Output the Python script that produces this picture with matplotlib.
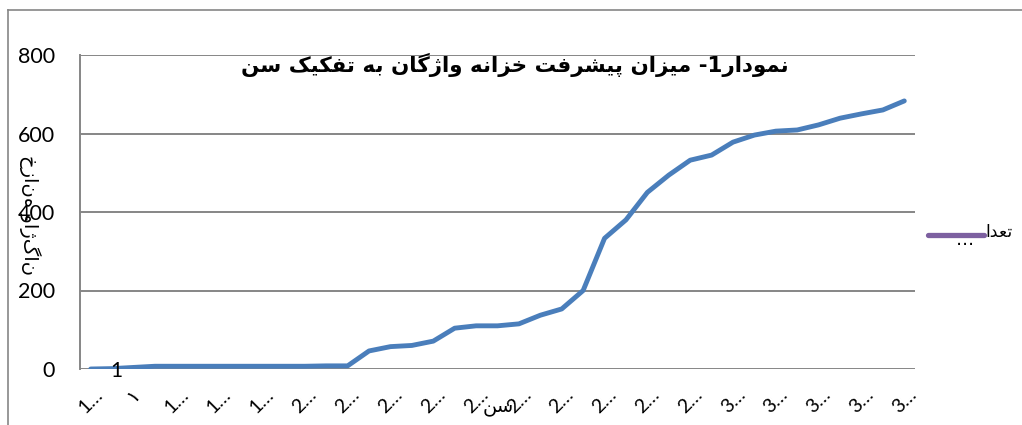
import matplotlib
matplotlib.use("Agg")
import matplotlib.pyplot as plt
from matplotlib.lines import Line2D

# Persian letters -> (isolated, final, initial, medial) presentation forms
FORMS = {
    'ا': ('\uFE8D', '\uFE8E', None, None),
    'ب': ('\uFE8F', '\uFE90', '\uFE91', '\uFE92'),
    'پ': ('\uFB56', '\uFB57', '\uFB58', '\uFB59'),
    'ت': ('\uFE95', '\uFE96', '\uFE97', '\uFE98'),
    'خ': ('\uFEA5', '\uFEA6', '\uFEA7', '\uFEA8'),
    'د': ('\uFEA9', '\uFEAA', None, None),
    'ر': ('\uFEAD', '\uFEAE', None, None),
    'ز': ('\uFEAF', '\uFEB0', None, None),
    'ژ': ('\uFB8A', '\uFB8B', None, None),
    'س': ('\uFEB1', '\uFEB2', '\uFEB3', '\uFEB4'),
    'ش': ('\uFEB5', '\uFEB6', '\uFEB7', '\uFEB8'),
    'ع': ('\uFEC9', '\uFECA', '\uFECB', '\uFECC'),
    'ف': ('\uFED1', '\uFED2', '\uFED3', '\uFED4'),
    'ک': ('\uFB8E', '\uFB8F', '\uFB90', '\uFB91'),
    'گ': ('\uFB92', '\uFB93', '\uFB94', '\uFB95'),
    'م': ('\uFEE1', '\uFEE2', '\uFEE3', '\uFEE4'),
    'ن': ('\uFEE5', '\uFEE6', '\uFEE7', '\uFEE8'),
    'ه': ('\uFEE9', '\uFEEA', '\uFEEB', '\uFEEC'),
    'و': ('\uFEED', '\uFEEE', None, None),
    'ی': ('\uFBFC', '\uFBFD', '\uFBFE', '\uFBFF'),
}


def rtl(s):
    # join letters and flip to visual order (matplotlib has no bidi)
    out = []
    for i, c in enumerate(s):
        if c not in FORMS:
            out.append(c)
            continue
        prev = s[i - 1] if i > 0 else ''
        nxt = s[i + 1] if i + 1 < len(s) else ''
        jp = prev in FORMS and FORMS[prev][2] is not None
        jn = nxt in FORMS and FORMS[c][2] is not None
        f = FORMS[c]
        if jp and jn:
            out.append(f[3])
        elif jp:
            out.append(f[1])
        elif jn:
            out.append(f[2])
        else:
            out.append(f[0])
    return ''.join(out[::-1])


# data (39 age groups)
values = [0, 1, 4, 7, 7, 7, 7, 7, 7, 7, 7, 8, 8, 46, 57, 60, 71, 104, 110, 110,
          115, 137, 153, 200, 333, 380, 450, 494, 532, 545, 578, 596, 606, 609,
          622, 639, 650, 660, 683]
tick_labels = ['1…', '١', '1…', '1…', '1…', '2…', '2…', '2…', '2…', '2…',
               '2…', '2…', '2…', '2…', '2…', '3…', '3…', '3…', '3…', '3…']
yticks = [0, 200, 400, 600, 800]

title = 'نمودار1- میزان پیشرفت خزانه واژگان به تفکیک سن'
ylabel = 'خزانه واژگان'
xlabel = 'سن'
legend_label = 'تعدا'

grid_c = '#868686'
fig = plt.figure(figsize=(10.22, 4.25), dpi=100)
ax = fig.add_axes([80 / 1022, 56 / 425, 835 / 1022, 314 / 425])

x = list(range(len(values)))
ax.plot(x, values, color='#4A7EBB', lw=3.5, solid_capstyle='round',
        solid_joinstyle='round', zorder=3)

ax.set_xlim(-0.5, len(values) - 0.5)
ax.set_ylim(0, 800)
ax.set_yticks(yticks)
ax.set_yticklabels([str(v) for v in yticks], fontsize=15.5, family=['Lato', 'DejaVu Sans'])
ax.set_xticks(range(0, len(values), 2))
ax.set_xticklabels(tick_labels, fontsize=14, rotation=45, ha='center',
                   family=['Lato', 'DejaVu Sans'])
ax.tick_params(axis='y', length=0, pad=18)
ax.tick_params(axis='x', length=0, pad=12)
ax.yaxis.grid(True, color=grid_c, lw=1.4)
ax.set_axisbelow(True)
for side in ['top', 'right', 'bottom']:
    ax.spines[side].set_visible(False)
ax.spines['left'].set_color(grid_c)
ax.spines['left'].set_linewidth(1.4)

# data label on the second point
ax.annotate('1', (1, values[1]), xytext=(-1, -2), textcoords='offset points',
            ha='left', va='center', fontsize=15, family=['Lato', 'DejaVu Sans'])

fig.text(515 / 1022, 1 - 65 / 425, rtl(title), ha='center', va='center',
         fontsize=15.4, fontweight='bold', family='DejaVu Sans')
fig.text(30 / 1022, 1 - 215 / 425, ylabel, rotation=270, ha='center', va='center',
         fontsize=14, family='DejaVu Sans')
fig.text(498 / 1022, 1 - 407 / 425, rtl(xlabel), ha='center', va='center',
         fontsize=14, family='DejaVu Sans')

# legend drawn by hand, Excel truncated its text
fig.add_artist(Line2D([928 / 1022, 984 / 1022], [1 - 235 / 425, 1 - 235 / 425],
                      color='#7D60A0', lw=3.8, solid_capstyle='round'))
fig.text(985 / 1022, 1 - 232 / 425, rtl(legend_label), ha='left', va='center',
         fontsize=12.5, family='DejaVu Sans')
fig.text(965 / 1022, 1 - 240 / 425, '…', ha='center', va='center', fontsize=13,
         family='DejaVu Sans')

# chart area border (left and top visible)
fig.add_artist(Line2D([8 / 1022, 8 / 1022], [0, 1 - 10 / 425], color=grid_c, lw=1.2))
fig.add_artist(Line2D([8 / 1022, 1], [1 - 10 / 425, 1 - 10 / 425], color=grid_c, lw=1.2))

fig.savefig('out.png', dpi=100)
